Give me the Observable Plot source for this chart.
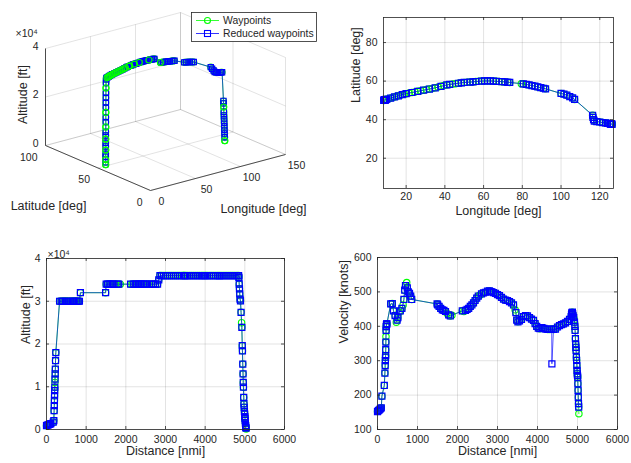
<!DOCTYPE html>
<html><head><meta charset="utf-8">
<script src="https://cdn.jsdelivr.net/npm/d3@7"></script>
<script src="https://cdn.jsdelivr.net/npm/@observablehq/plot@0.6"></script>
<style>
body{margin:0;background:#fff;}
#fig{position:relative;width:631px;height:463px;overflow:hidden;font-family:"Liberation Sans",Arial,sans-serif;background:#fff;}
.panel{position:absolute;}
.panel svg{display:block;overflow:visible;}
#legend{position:absolute;left:191px;top:12px;}
</style></head><body><div id="fig"></div>
<script>
// ---------- flight track (3-D panel and latitude/longitude panel) ----------
const trackLon = [8.55,8.58,8.60,8.62,8.65,8.68,8.70,8.73,8.76,8.80,8.84,8.88,8.92,8.96,9.00,9.05,9.10,9.15,9.22,9.30,9.40,9.60,10.0,
  11.0,12.0,13.0,14.0,15.0,16.0,17.0,18.0,19.0,20.0,21.5,23.0,24.5,26.0,27.5,29.0,30.5,32.0,33.5,35.0,36.5,38.0,39.5,41.0,42.5,44.0,45.5,47.0,48.5,50.0,51.5,53.0,54.5,56.0,57.5,59.0,60.5,62.0,63.5,65.0,66.5,68.0,69.5,71.0,72.5,73.5,
  79.5,80.5,82.0,83.5,85.0,86.5,88.0,89.5,91.0,92.0,
  100.0,101.5,103.0,104.5,106.0,107.0,
  116.3,116.5,116.8,117.2,118.5,120.0,121.5,123.0,124.0,
  125.3,125.4,125.5,125.6,125.7,125.8,125.9,126.0,126.1,126.2,126.3,126.4];
const trackLat = [50.00,50.02,50.03,50.05,50.06,50.08,50.10,50.12,50.13,50.15,50.17,50.19,50.21,50.23,50.25,50.27,50.30,50.32,50.35,50.38,50.42,50.48,50.60,
  50.9,51.2,51.5,51.8,52.1,52.4,52.7,53.0,53.2,53.5,53.8,54.1,54.4,54.7,55.0,55.3,55.6,55.9,56.2,56.5,56.9,57.3,57.7,58.0,58.3,58.5,58.7,58.9,59.1,59.3,59.4,59.5,59.6,59.8,59.9,60.0,60.1,60.1,60.1,60.0,59.9,59.8,59.7,59.6,59.4,59.3,
  58.7,58.6,58.3,58.0,57.7,57.4,57.0,56.6,56.3,56.0,
  53.6,53.2,52.7,52.0,51.3,50.5,
  42.3,41.2,40.0,39.3,39.0,38.8,38.5,38.3,38.1,
  37.9,37.9,37.85,37.8,37.8,37.75,37.75,37.7,37.7,37.65,37.6,37.6];
const trackAlt = [500,1500,2600,3800,5000,6500,8000,9500,11000,12500,14000,16000,18000,20000,22000,24000,26000,28000,30000,32000,34000,35500,36000,
  36000,36000,36000,36000,36000,36000,36000,36000,36000,36000,36000,36000,36000,36000,36000,36000,36000,36000,36000,36000,36000,36000,36000,36000,36000,36000,36000,36000,36000,36000,36000,36000,36000,36000,36000,36000,36000,36000,36000,36000,36000,36000,36000,36000,36000,36000,
  34000,34000,34000,34000,34000,34000,34000,34000,34000,34000,
  33000,33000,33000,33000,33000,33000,
  31500,31000,30500,30000,29800,29600,29500,29500,29400,
  17500,16500,15000,13000,11500,10000,8500,7000,5500,4000,2500,1000];
// 1 = waypoint kept in the reduced set, 0 = waypoint only
const trackKeep = [0,1,0,1,1,0,1,1,0,1,1,0,1,1,0,1,1,1,1,0,1,1,1,
  0,1,0,1,0,1,0,1,0,1,0,1,0,1,0,1,0,1,0,1,0,1,0,1,1,0,0,1,1,1,0,1,1,1,0,1,1,1,1,1,1,0,1,1,1,1,
  0,1,1,1,1,1,1,1,1,1,
  1,1,1,1,1,1,
  1,1,1,1,1,1,1,1,1,
  1,1,0,1,1,1,1,1,1,1,1,0];

// ---------- flight profile (distance panels) ----------
const profDist = [0,20,45,70,95,110,170,185,192,197,200,203,206,209,212,215,219,223,228,235,
  330,370,400,440,470,490,510,540,570,610,640,660,680,700,730,745,770,800,830,855,
  1490,1505,1540,1580,1620,1660,1700,1740,1780,1820,1860,
  2120,2160,2200,2240,2280,2320,2360,2400,2440,2480,2520,2560,2600,2650,2700,2750,2800,2830,2860,2900,
  2950,3000,3050,3100,3150,3200,3250,3300,3350,3400,3440,3460,3480,3510,3550,3600,3650,3700,3750,3800,3850,3900,3940,3980,
  4020,4060,4110,4160,4210,4260,4310,4355,4360,4400,4450,4500,4550,4600,4650,4700,4750,4800,4843,
  4850,4858,4865,4872,4880,4890,4905,4918,4925,4935,4940,4948,4955,4960,4965,4972,4978,4984,4990,4995,5000,5005,5010,5015,5020,5025,5030,5035];
const profAlt = [900,1000,1100,1200,1300,1400,1700,2100,4400,5600,6800,7900,9100,9900,11000,11800,13000,14100,16100,18000,
  30000,30000,30000,30000,30000,30000,30000,30000,30000,30000,30000,30000,30000,30000,30000,30000,30000,30000,30000,32000,
  32000,34000,34000,34000,34000,34000,34000,34000,34000,34000,34000,
  34000,34000,34000,34000,34000,34000,34000,34000,34000,34000,34000,34000,34000,34000,34000,34000,34000,35000,36000,36000,
  36000,36000,36000,36000,36000,36000,36000,36000,36000,36000,36000,36000,36000,36000,36000,36000,36000,36000,36000,36000,36000,36000,36000,36000,
  36000,36000,36000,36000,36000,36000,36000,36000,36000,36000,36000,36000,36000,36000,36000,36000,36000,36000,36000,
  35600,34000,32900,31700,30500,30100,27400,25000,23900,19600,18400,15300,13000,11000,9900,7500,6000,5200,4200,3600,3000,2600,2100,1500,900,500,300,100];
const profVel = [152,155,157,160,163,197,228,264,286,300,310,315,332,354,370,388,399,404,407,407,
  465,466,445,431,412,418,425,440,445,452,462,478,505,518,527,512,500,496,488,478,
  465,462,458,452,448,446,443,437,433,430,432,
  445,443,446,449,452,458,462,468,475,482,488,490,494,497,499,502,503,501,500,498,
  496,492,489,484,479,476,475,472,468,462,448,440,418,413,416,420,428,431,430,425,421,417,408,400,
  395,393,396,394,392,391,391,392,291,391,392,398,402,405,407,410,414,420,428,
  434,438,440,441,436,430,425,418,412,400,388,364,349,339,330,310,301,286,272,262,257,252,233,214,194,175,165,146];
// 1 = both sets, 0 = waypoints only, 2 = reduced waypoints only
const profKeep = [1,1,1,1,1,1,1,1,1,1,1,1,1,1,0,1,1,1,1,1,
  1,1,1,1,0,1,1,0,1,1,0,1,1,1,0,1,1,1,1,1,
  1,1,1,1,1,1,1,0,1,1,0,
  1,0,1,1,1,1,1,1,1,1,1,0,1,1,1,1,1,1,1,1,
  1,1,1,1,1,1,1,1,1,1,0,1,1,1,1,1,1,1,1,1,1,1,1,1,
  1,1,1,1,1,1,1,1,2,1,1,1,1,1,1,1,1,1,1,
  1,1,1,1,1,1,1,0,1,1,1,1,1,1,1,1,1,1,1,1,1,1,1,1,1,1,1,0];

// ---------- ticks ----------
const lonTicks = [20,40,60,80,100,120];
const latTicks = [20,40,60,80];
const distTicks = [0,1000,2000,3000,4000,5000,6000];
const altTicks = [0,10000,20000,30000,40000];
const velTicks = [100,200,300,400,500,600];
const lat3dTicks = [0,50,100];
const lon3dTicks = [0,50,100,150];
const alt3dTicks = [0,20000,40000];

const GREEN = "#00ff00", BLUE = "#0000ff", INK = "#262626";
const FONT = "'Liberation Sans', Arial, sans-serif";

const track = trackLon.map((lon, i) => ({lon, lat: trackLat[i], alt: trackAlt[i], keep: trackKeep[i]}));
const prof = profDist.map((dist, i) => ({dist, alt: profAlt[i], vel: profVel[i], keep: profKeep[i]}));
const wpTrack = track, redTrack = track.filter(d => d.keep === 1);
const wpProf = prof.filter(d => d.keep !== 2), redProf = prof.filter(d => d.keep >= 1);

const fig = document.getElementById("fig");
function place(node, left, top) {
  const d = document.createElement("div");
  d.className = "panel"; d.style.left = left + "px"; d.style.top = top + "px";
  d.appendChild(node); fig.appendChild(d);
}

function panel2D(c) {
  const [mt, mr, mb, ml] = c.m;
  const ph = c.height - mt - mb, pw = c.width - ml - mr;
  return Plot.plot({
    width: c.width, height: c.height,
    marginTop: mt, marginRight: mr, marginBottom: mb, marginLeft: ml,
    style: {fontFamily: FONT, fontSize: "10.5px", color: INK, background: "transparent"},
    x: {domain: c.xDomain, axis: null},
    y: {domain: c.yDomain, axis: null},
    marks: [
      Plot.gridX(c.xTicks, {stroke: INK, strokeOpacity: 0.13}),
      Plot.gridY(c.yTicks, {stroke: INK, strokeOpacity: 0.13}),
      Plot.line(c.wp, {x: c.xKey, y: c.yKey, stroke: GREEN, strokeWidth: 0.8}),
      Plot.dot(c.wp, {x: c.xKey, y: c.yKey, symbol: "circle", r: 3.2, stroke: GREEN, strokeWidth: 1.1, fill: "none"}),
      Plot.line(c.red, {x: c.xKey, y: c.yKey, stroke: BLUE, strokeWidth: 0.8, strokeOpacity: 0.8}),
      Plot.dot(c.red, {x: c.xKey, y: c.yKey, symbol: "square", r: 3.4, stroke: BLUE, strokeWidth: 1.2, fill: "none"}),
      Plot.ruleX(c.xTicks, {insetTop: ph - 3, stroke: INK, strokeWidth: 0.8}),
      Plot.ruleX(c.xTicks, {insetBottom: ph - 3, stroke: INK, strokeWidth: 0.8}),
      Plot.ruleY(c.yTicks, {insetRight: pw - 3, stroke: INK, strokeWidth: 0.8}),
      Plot.ruleY(c.yTicks, {insetLeft: pw - 3, stroke: INK, strokeWidth: 0.8}),
      Plot.frame({stroke: INK, strokeWidth: 0.8}),
      Plot.axisX(c.xTicks, {tickSize: 0, tickPadding: c.xPad, fill: INK, fontSize: 10.5, label: null, tickFormat: d => String(d)}),
      Plot.axisY(c.yTicks, {tickSize: 0, tickPadding: 6, fill: INK, fontSize: 10.5, label: null, tickFormat: c.yFormat || (d => String(d))}),
      Plot.text([c.xLabel], {frameAnchor: "bottom", dy: c.xLabelDy, fill: INK, fontSize: 12.5}),
      Plot.text([c.yLabel], {frameAnchor: "left", rotate: -90, dx: c.yLabelDx, fill: INK, fontSize: 12.5}),
      ...(c.exp ? [Plot.text([c.exp], {frameAnchor: "top-left", textAnchor: "start", dx: 1, dy: -8, fill: INK, fontSize: 10.5})] : [])
    ]
  });
}

// ---------- top right: latitude vs longitude ----------
place(panel2D({
  width: 311, height: 220, m: [17, 18, 32, 63],
  xDomain: [8.3, 127.1], yDomain: [4.3, 93], xTicks: lonTicks, yTicks: latTicks,
  wp: wpTrack, red: redTrack, xKey: "lon", yKey: "lat",
  xPad: 4, xLabel: "Longitude [deg]", xLabelDy: 26, yLabel: "Latitude [deg]", yLabelDx: -28
}), 320, 0);

// ---------- bottom left: altitude vs distance ----------
place(panel2D({
  width: 320, height: 233, m: [28, 36, 34, 46],
  xDomain: [0, 6000], yDomain: [0, 40000], xTicks: distTicks, yTicks: altTicks,
  yFormat: d => String(d / 10000),
  wp: wpProf, red: redProf, xKey: "dist", yKey: "alt",
  xPad: 6, xLabel: "Distance [nmi]", xLabelDy: 25, yLabel: "Altitude [ft]", yLabelDx: -21,
  exp: "×10⁴"
}), 0, 230);

// ---------- bottom right: velocity vs distance ----------
place(panel2D({
  width: 311, height: 233, m: [27, 14, 34, 57],
  xDomain: [0, 6000], yDomain: [100, 600], xTicks: distTicks, yTicks: velTicks,
  wp: wpProf, red: redProf, xKey: "dist", yKey: "vel",
  xPad: 6, xLabel: "Distance [nmi]", xLabelDy: 25, yLabel: "Velocity [knots]", yLabelDx: -34
}), 320, 230);

// ---------- top left: 3-D view ----------
const LAT_MAX = 100, LON_MAX = 150, ALT_MAX = 40000;
function proj(lat, lon, alt) {
  return {px: 150 + 0.9 * lon - 1.05 * lat, py: 190 - 0.24 * lon - 0.45 * lat - 0.002425 * alt};
}
function seg(a, b) { const p = proj(...a), q = proj(...b); return {x1: p.px, y1: p.py, x2: q.px, y2: q.py}; }
const grid3d = [];
lat3dTicks.forEach(t => grid3d.push(seg([t, 0, 0], [t, LON_MAX, 0]), seg([t, LON_MAX, 0], [t, LON_MAX, ALT_MAX])));
lon3dTicks.forEach(t => grid3d.push(seg([0, t, 0], [LAT_MAX, t, 0]), seg([LAT_MAX, t, 0], [LAT_MAX, t, ALT_MAX])));
alt3dTicks.forEach(t => grid3d.push(seg([LAT_MAX, 0, t], [LAT_MAX, LON_MAX, t]), seg([LAT_MAX, LON_MAX, t], [0, LON_MAX, t])));
const axes3d = [seg([LAT_MAX, 0, 0], [LAT_MAX, 0, ALT_MAX]), seg([LAT_MAX, 0, 0], [0, 0, 0]), seg([0, 0, 0], [0, LON_MAX, 0])];
const latLab = lat3dTicks.map(t => ({...proj(t, 0, 0), t: String(t)}));
const lonLab = lon3dTicks.map(t => ({...proj(0, t, 0), t: String(t)}));
const altLab = alt3dTicks.map(t => ({...proj(LAT_MAX, 0, t), t: String(t / 10000)}));
const P = d => proj(d.lat, d.lon, d.alt);
const wp3 = wpTrack.map(P), red3 = redTrack.map(P), wpOnly3 = track.filter(d => d.keep === 0).map(P);
const zAxisTop = proj(LAT_MAX, 0, ALT_MAX);

place(Plot.plot({
  width: 320, height: 220, margin: 0,
  style: {fontFamily: FONT, fontSize: "10.5px", color: INK, background: "transparent"},
  x: {domain: [0, 320], range: [0, 320], axis: null},
  y: {domain: [0, 220], range: [0, 220], axis: null},
  marks: [
    Plot.link(grid3d, {x1: "x1", y1: "y1", x2: "x2", y2: "y2", stroke: INK, strokeOpacity: 0.13}),
    Plot.link(axes3d, {x1: "x1", y1: "y1", x2: "x2", y2: "y2", stroke: INK, strokeWidth: 0.8}),
    Plot.line(wp3, {x: "px", y: "py", stroke: GREEN, strokeWidth: 0.8}),
    Plot.dot(wp3, {x: "px", y: "py", symbol: "circle", r: 3.0, stroke: GREEN, strokeWidth: 1.1, fill: "none"}),
    Plot.line(red3, {x: "px", y: "py", stroke: BLUE, strokeWidth: 0.8, strokeOpacity: 0.8}),
    Plot.dot(red3, {x: "px", y: "py", symbol: "square", r: 3.0, stroke: BLUE, strokeWidth: 1.1, fill: "none"}),
    Plot.dot(wpOnly3, {x: "px", y: "py", symbol: "circle", r: 3.0, stroke: GREEN, strokeWidth: 1.1, fill: "none"}),
    Plot.text(latLab, {x: "px", y: "py", text: "t", textAnchor: "end", dx: -8, dy: 12, fill: INK, fontSize: 10.5}),
    Plot.text(lonLab, {x: "px", y: "py", text: "t", dx: 11, dy: 11, fill: INK, fontSize: 10.5}),
    Plot.text(altLab, {x: "px", y: "py", text: "t", textAnchor: "end", dx: -7, dy: -2, fill: INK, fontSize: 10.5}),
    Plot.text([zAxisTop], {x: "px", y: "py", text: () => "×10⁴", textAnchor: "start", dx: -30, dy: -15, fill: INK, fontSize: 10.5}),
    Plot.text(["Latitude [deg]"], {x: () => 48, y: () => 205, fill: INK, fontSize: 12.5}),
    Plot.text(["Longitude [deg]"], {x: () => 263, y: () => 208, fill: INK, fontSize: 12.5}),
    Plot.text(["Altitude [ft]"], {x: () => 22, y: () => 94, rotate: -90, fill: INK, fontSize: 12.5})
  ]
}), 0, 0);

// ---------- legend ----------
const lg = document.createElement("div");
lg.id = "legend";
lg.innerHTML = `<svg width="126" height="30" style="display:block;font-family:${FONT};font-size:10.4px">
  <rect x="0.5" y="0.5" width="125" height="29" fill="#fff" stroke="${INK}" stroke-width="0.8"/>
  <line x1="5" x2="28" y1="8.5" y2="8.5" stroke="${GREEN}" stroke-width="0.8"/>
  <circle cx="16.5" cy="8.5" r="3" fill="none" stroke="${GREEN}" stroke-width="1.1"/>
  <text x="32" y="12" fill="${INK}">Waypoints</text>
  <line x1="5" x2="28" y1="21.5" y2="21.5" stroke="${BLUE}" stroke-width="0.8"/>
  <rect x="13.5" y="18.5" width="6" height="6" fill="none" stroke="${BLUE}" stroke-width="1.1"/>
  <text x="32" y="25" fill="${INK}">Reduced waypoints</text>
</svg>`;
fig.appendChild(lg);
</script>
</body></html>
